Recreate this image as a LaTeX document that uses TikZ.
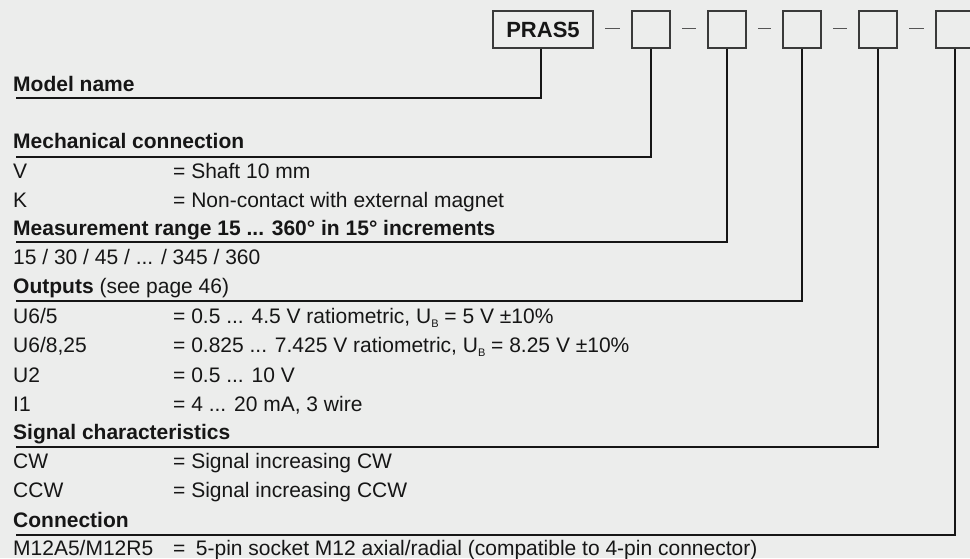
\documentclass[tikz,border=0pt]{standalone}
\usepackage{fontspec}
\setmainfont{Liberation Sans}
\usetikzlibrary{calc}
\definecolor{bg}{HTML}{ECEDEC}
\definecolor{ink}{HTML}{161616}
\definecolor{boxline}{HTML}{3A3A3A}
\definecolor{dashgray}{HTML}{555555}
\newcommand{\subB}{\raisebox{-4.2pt}{\fontsize{11}{11}\selectfont B}}
\begin{document}
\begin{tikzpicture}[x=1pt,y=-1pt,
  lbl/.style={anchor=base west, inner sep=0pt, text=ink, font=\fontsize{21}{25}\selectfont},
  hdr/.style={lbl, font=\fontsize{21}{25}\selectfont\bfseries},
  codebox/.style={draw=boxline, line width=1.3pt, minimum width=38pt, minimum height=37pt, inner sep=0pt},
  namebox/.style={codebox, minimum width=100pt, text=ink, font=\fontsize{22}{26}\selectfont\bfseries},
  sep/.style={draw=dashgray, line width=1pt},
  lead/.style={draw=ink, line width=1.1pt}]
\useasboundingbox (0,0) rectangle (970,558);
\fill[bg] (0,0) rectangle (970,558);
\clip (0,0) rectangle (970,558);

% order code boxes
\node[namebox] (p)  at (543,29.5) {PRAS5};
\node[codebox] (b1) at (651,29.5) {};
\node[codebox] (b2) at (727,29.5) {};
\node[codebox] (b3) at (802,29.5) {};
\node[codebox] (b4) at (878,29.5) {};
\node[codebox] (b5) at (955,29.5) {};

% separators between the boxes
\foreach \l/\r in {p/b1,b1/b2,b2/b3,b3/b4,b4/b5}
  \draw[sep] ($(\l.east)+(11.5,-1)$) -- ($(\r.west)+(-11.5,-1)$);

% left ends of the leader lines
\coordinate (e0) at (16,98);
\coordinate (e1) at (16,157);
\coordinate (e2) at (16,242);
\coordinate (e3) at (16,301);
\coordinate (e4) at (16,447);
\coordinate (e5) at (16,535);

\draw[lead] ([xshift=-2pt]p.south) |- (e0);
\draw[lead] (b1.south) |- (e1);
\draw[lead] (b2.south) |- (e2);
\draw[lead] (b3.south) |- (e3);
\draw[lead] (b4.south) |- (e4);
\draw[lead] (b5.south) |- (e5);

% section headings
\node[hdr] (h0) at (13,91)  {Model name};
\node[hdr] (h1) at (13,148) {Mechanical connection};
\node[hdr] (h2) at (13,235) {Measurement range 15 ... 360° in 15° increments};
\node[hdr] (h3) at (13,293) {Outputs\mdseries{} (see page 46)};
\node[hdr] (h4) at (13,439) {Signal characteristics};
\node[hdr] (h5) at (13,527) {Connection};

% option codes
\node[lbl] (k1) at (13,178) {V};
\node[lbl] (k2) at (13,207) {K};
\node[lbl] (k3) at (13,264) {15 / 30 / 45 / ... / 345 / 360};
\node[lbl] (k4) at (13,323) {U6/5};
\node[lbl] (k5) at (13,352) {U6/8,25};
\node[lbl] (k6) at (13,382) {U2};
\node[lbl] (k7) at (13,411) {I1};
\node[lbl] (k8) at (13,468) {CW};
\node[lbl] (k9) at (13,497) {CCW};
\node[lbl] (k10) at (13,555) {M12A5/M12R5};

% option descriptions
\node[lbl] (d1) at (173,178) {= Shaft 10 mm};
\node[lbl] (d2) at (173,207) {= Non-contact with external magnet};
\node[lbl] (d4) at (173,323) {= 0.5 ... 4.5 V ratiometric, U\subB{} = 5 V ±10\%};
\node[lbl] (d5) at (173,352) {= 0.825 ... 7.425 V ratiometric, U\subB{} = 8.25 V ±10\%};
\node[lbl] (d6) at (173,382) {= 0.5 ... 10 V};
\node[lbl] (d7) at (173,411) {= 4 ... 20 mA, 3 wire};
\node[lbl] (d8) at (173,468) {= Signal increasing CW};
\node[lbl] (d9) at (173,497) {= Signal increasing CCW};
\node[lbl] (d10) at (173,555) {=\hspace{0.5em}5-pin socket M12 axial/radial (compatible to 4-pin connector)};
\end{tikzpicture}
\end{document}
